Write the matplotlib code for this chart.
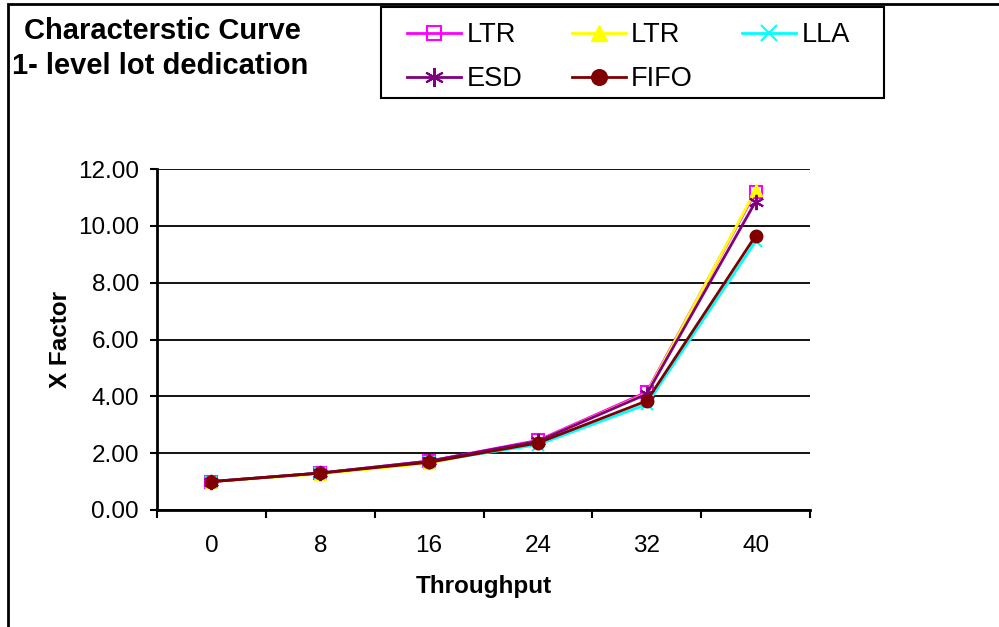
import matplotlib
matplotlib.use("Agg")
import matplotlib.pyplot as plt
from matplotlib.patches import Rectangle
import numpy as np

plt.rcParams['font.family'] = ['Liberation Sans', 'DejaVu Sans']

throughput = ["0", "8", "16", "24", "32", "40"]
ltr_a = [1.00, 1.30, 1.72, 2.45, 4.15, 11.20]
ltr_b = [1.00, 1.27, 1.65, 2.42, 4.10, 11.25]
lla = [1.00, 1.30, 1.70, 2.30, 3.72, 9.45]
esd = [1.00, 1.30, 1.72, 2.42, 4.08, 10.85]
fifo = [1.00, 1.30, 1.68, 2.36, 3.84, 9.65]

series = [
    ("LTR", ltr_a, dict(color="#FF00FF", marker="s", markerfacecolor="none",
                        markeredgecolor="#FF00FF", markersize=8, markeredgewidth=1.5)),
    ("LTR", ltr_b, dict(color="#FFFF00", marker="^", markerfacecolor="#FFFF00",
                        markeredgecolor="#FFFF00", markersize=9)),
    ("LLA", lla, dict(color="#00FFFF", marker="x", markeredgecolor="#00FFFF",
                      markersize=9, markeredgewidth=1.5)),
    ("ESD", esd, dict(color="#800080", marker=(6, 2, 0), markeredgecolor="#800080",
                      markersize=11, markeredgewidth=1.5)),
    ("FIFO", fifo, dict(color="#800000", marker="o", markerfacecolor="#800000",
                        markeredgecolor="#800000", markersize=9)),
]

W, H = 999, 627
fig = plt.figure(figsize=(W / 100, H / 100), dpi=100)
ax = fig.add_axes([157 / W, (H - 510) / H, (810 - 157) / W, (510 - 169) / H])

x = np.arange(len(throughput))
handles = []
labels = []
for name, vals, style in series:
    h, = ax.plot(x, vals, linewidth=2, label=name, **style)
    handles.append(h)
    labels.append(name)

ax.set_xlim(-0.5, len(throughput) - 0.5)
ax.set_ylim(0, 12)
yt = np.arange(0, 12.01, 2)
ax.set_yticks(yt)
ax.set_yticklabels([f"{v:.2f}" for v in yt])
ax.set_xticks(x)
ax.set_xticklabels(throughput)
ax.set_xticks(np.arange(-0.5, len(throughput), 1), minor=True)
ax.tick_params(axis='x', which='major', length=0, pad=18, labelsize=17.5)
ax.tick_params(axis='x', which='minor', length=6, width=1.5, direction='out')
ax.tick_params(axis='y', which='major', length=5, width=1.5, direction='out',
               labelsize=17.5, pad=8)
ax.yaxis.grid(True, color='black', linewidth=1.3)
ax.set_axisbelow(True)
for side in ("top", "right"):
    ax.spines[side].set_visible(False)
for side in ("left", "bottom"):
    ax.spines[side].set_linewidth(2)

ax.set_xlabel("Throughput", fontsize=17.5, fontweight='bold', labelpad=13)
ax.set_ylabel("X Factor", fontsize=17.5, fontweight='bold', labelpad=4)

fig.text(24 / W, 1 - 31 / H, "Characterstic Curve", fontsize=21, fontweight='bold',
         va='center', ha='left')
fig.text(12 / W, 1 - 66 / H, "1- level lot dedication", fontsize=21, fontweight='bold',
         va='center', ha='left')

# legend filled column by column: reorder so rows read LTR, LTR, LLA / ESD, FIFO
order = [0, 3, 1, 4, 2]
leg = fig.legend(handles=[handles[i] for i in order], labels=[labels[i] for i in order],
                 ncol=3, loc='upper left',
                 bbox_to_anchor=(407 / W, 1 - 98 / H, (850 - 407) / W, (98 - 22) / H),
                 mode='expand', fontsize=19.5, frameon=False, markerscale=1.25,
                 handlelength=2.0, handletextpad=0.2, borderpad=0.0, labelspacing=0.67,
                 borderaxespad=0)
fig.patches.append(Rectangle((381 / W, 1 - 98 / H), (884 - 381) / W, (98 - 7) / H,
                             transform=fig.transFigure, fill=False, edgecolor='black',
                             linewidth=1.5))

# outer chart frame
fig.patches.append(Rectangle((8 / W, -0.1), 1.2, 1 - 4 / H + 0.1, transform=fig.transFigure,
                             fill=False, edgecolor='black', linewidth=2))

fig.savefig("out.png", dpi=100)
